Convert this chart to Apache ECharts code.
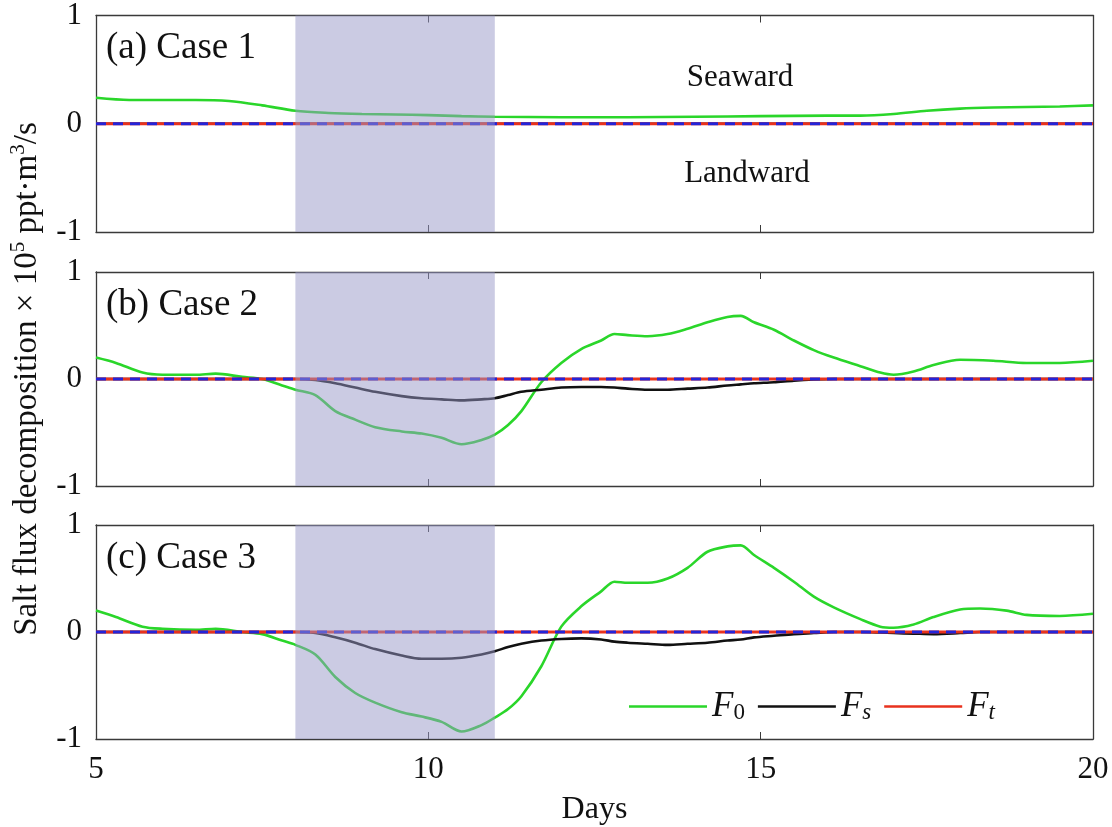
<!DOCTYPE html>
<html>
<head>
<meta charset="utf-8">
<script src="https://cdn.jsdelivr.net/npm/echarts@6/dist/echarts.min.js"></script>
<style>
  html, body { margin: 0; padding: 0; background: #fff; }
  #chart { width: 1112px; height: 827px; }
</style>
</head>
<body>
<div id="chart"></div>
<script>
// x ticks / y ticks
const xTicks = [5, 10, 15, 20]
const yTicks = [-1, 0, 1]
const shade = [8, 11]

// Case 1
const case1Days = [5, 5.5, 6, 6.5, 7, 7.5, 8, 8.5, 9, 9.5, 10, 10.5, 11, 12, 13, 14, 15, 16, 16.5, 17, 17.5, 18, 18.5, 19, 19.5, 20]
const case1F0 = [0.24, 0.22, 0.22, 0.22, 0.21, 0.17, 0.12, 0.1, 0.09, 0.085, 0.08, 0.07, 0.065, 0.06, 0.06, 0.065, 0.07, 0.075, 0.075, 0.09, 0.12, 0.14, 0.15, 0.155, 0.16, 0.17]
const case1Fs = [0, 0, 0, 0, 0, 0, 0, 0, 0, 0, 0, 0, 0, 0, 0, 0, 0, 0, 0, 0, 0, 0, 0, 0, 0, 0]

// Case 2
const case2Days = [5, 5.3, 5.7, 6, 6.5, 6.8, 7.2, 7.5, 7.8, 8, 8.3, 8.6, 8.9, 9.2, 9.6, 9.9, 10.2, 10.5, 10.8, 11, 11.2, 11.4, 11.7, 12, 12.3, 12.6, 12.8, 13, 13.3, 13.6, 13.9, 14.2, 14.5, 14.7, 14.9, 15.2, 15.5, 15.8, 16.1, 16.5, 16.8, 17, 17.3, 17.6, 18, 18.5, 19, 19.5, 20]
const case2F0 = [0.2, 0.15, 0.06, 0.04, 0.04, 0.05, 0.02, 0, -0.06, -0.1, -0.15, -0.3, -0.38, -0.45, -0.49, -0.51, -0.55, -0.61, -0.57, -0.52, -0.43, -0.3, -0.03, 0.15, 0.28, 0.36, 0.42, 0.41, 0.4, 0.42, 0.47, 0.53, 0.58, 0.59, 0.53, 0.46, 0.36, 0.27, 0.2, 0.12, 0.06, 0.04, 0.07, 0.13, 0.18, 0.17, 0.15, 0.15, 0.17]
const case2Fs = [0, 0, 0, 0, 0, 0, 0, 0, 0, 0, -0.01, -0.04, -0.08, -0.12, -0.16, -0.18, -0.19, -0.2, -0.19, -0.18, -0.15, -0.12, -0.1, -0.08, -0.075, -0.075, -0.08, -0.09, -0.1, -0.1, -0.09, -0.08, -0.06, -0.05, -0.04, -0.03, -0.015, -0.005, 0, 0, 0, 0, 0, 0, 0, 0, 0, 0, 0]

// Case 3
const case3Days = [5, 5.3, 5.7, 6, 6.5, 6.8, 7.2, 7.5, 7.8, 8, 8.3, 8.6, 8.9, 9.2, 9.6, 9.9, 10.2, 10.5, 10.8, 11, 11.2, 11.4, 11.7, 12, 12.3, 12.6, 12.8, 13, 13.3, 13.6, 13.9, 14.2, 14.5, 14.7, 14.9, 15.2, 15.5, 15.8, 16.1, 16.5, 16.8, 17, 17.3, 17.6, 18, 18.3, 18.7, 19, 19.5, 20]
const case3F0 = [0.2, 0.14, 0.05, 0.03, 0.02, 0.03, 0, -0.02, -0.08, -0.12, -0.21, -0.42, -0.57, -0.66, -0.75, -0.79, -0.84, -0.93, -0.87, -0.8, -0.72, -0.6, -0.32, 0.05, 0.24, 0.38, 0.47, 0.46, 0.46, 0.5, 0.6, 0.75, 0.8, 0.81, 0.72, 0.6, 0.47, 0.33, 0.23, 0.12, 0.05, 0.04, 0.07, 0.14, 0.21, 0.22, 0.2, 0.16, 0.15, 0.17]
const case3Fs = [0, 0, 0, 0, 0, 0, 0, 0, 0, 0, -0.01, -0.05, -0.1, -0.16, -0.22, -0.25, -0.25, -0.24, -0.21, -0.18, -0.14, -0.11, -0.08, -0.065, -0.06, -0.07, -0.09, -0.1, -0.11, -0.12, -0.11, -0.1, -0.08, -0.07, -0.05, -0.035, -0.02, -0.01, 0, 0, -0.005, -0.01, -0.015, -0.02, -0.01, 0, 0, 0, 0, 0]

const panelTitles = ['(a) Case 1', '(b) Case 2', '(c) Case 3']
const panels = [
  { days: case1Days, f0: case1F0, fs: case1Fs },
  { days: case2Days, f0: case2F0, fs: case2Fs },
  { days: case3Days, f0: case3F0, fs: case3Fs }
]

const serif = '"Liberation Serif", "DejaVu Serif", serif'
const axisColor = '#3a3a3a'
const green = '#2ad62a'
const black = '#111111'
const red = '#e8321e'
const blue = '#2424d8'

const chart = echarts.init(document.getElementById('chart'))

const gridTops = [15, 272, 525]
const gridHeights = [217, 214, 214]

const grid = gridTops.map((t, i) => ({ left: 96, width: 997, top: t, height: gridHeights[i] }))

const xAxis = []
const yAxis = []
gridTops.forEach((t, i) => {
  const last = i === 2
  xAxis.push({
    type: 'value', gridIndex: i, min: xTicks[0], max: xTicks[xTicks.length - 1], interval: 5,
    axisLine: { onZero: false, lineStyle: { color: axisColor, width: 1.3 } },
    axisTick: { inside: true, length: 7, lineStyle: { color: axisColor } },
    splitLine: { show: false },
    axisLabel: { show: last, color: '#111', fontFamily: serif, fontSize: 31, margin: 15 },
    name: last ? 'Days' : '', nameLocation: 'middle', nameGap: 55,
    nameTextStyle: { color: '#111', fontFamily: serif, fontSize: 32 }
  })
  xAxis.push({
    type: 'value', gridIndex: i, position: 'top', min: 5, max: 20, interval: 5,
    axisLine: { onZero: false, lineStyle: { color: axisColor, width: 1.3 } },
    axisTick: { inside: true, length: 7, lineStyle: { color: axisColor } },
    splitLine: { show: false }, axisLabel: { show: false }
  })
  yAxis.push({
    type: 'value', gridIndex: i, min: yTicks[0], max: yTicks[2], interval: 1,
    axisLine: { show: true, onZero: false, lineStyle: { color: axisColor, width: 1.3 } },
    axisTick: { show: true, inside: true, length: 7, lineStyle: { color: axisColor } },
    splitLine: { show: false },
    axisLabel: { color: '#111', fontFamily: serif, fontSize: 31, margin: 14 },
    name: i === 1 ? '{n|Salt flux decomposition × 10}{s|5}{n| ppt·m}{s|3}{n|/s}' : '',
    nameLocation: 'middle', nameRotate: 90, nameGap: 50, nameMoveOverlap: false,
    nameTextStyle: {
      rich: {
        n: { fontFamily: serif, fontSize: 33, color: '#111', lineHeight: 38 },
        s: { fontFamily: serif, fontSize: 21, color: '#111', lineHeight: 24, verticalAlign: 'top' }
      }
    }
  })
  yAxis.push({
    type: 'value', gridIndex: i, position: 'right', min: -1, max: 1, interval: 1,
    axisLine: { show: true, onZero: false, lineStyle: { color: axisColor, width: 1.3 } },
    axisTick: { show: true, inside: true, length: 7, lineStyle: { color: axisColor } },
    splitLine: { show: false }, axisLabel: { show: false }
  })
})

const series = []
panels.forEach((p, i) => {
  const xi = i * 2
  const yi = i * 2
  const zeros = p.days.map(d => [d, 0])
  series.push({
    name: 'F0', type: 'line', xAxisIndex: xi, yAxisIndex: yi, smooth: 0.3, showSymbol: false,
    data: p.days.map((d, k) => [d, p.f0[k]]), lineStyle: { color: green, width: 2.6 }, itemStyle: { color: green }, z: 3
  })
  series.push({
    name: 'Fs', type: 'line', xAxisIndex: xi, yAxisIndex: yi, smooth: 0.3, showSymbol: false,
    data: p.days.map((d, k) => [d, p.fs[k]]), lineStyle: { color: black, width: 2.6 }, itemStyle: { color: black }, z: 3
  })
  series.push({
    name: 'Ft', type: 'line', xAxisIndex: xi, yAxisIndex: yi, showSymbol: false,
    data: zeros, lineStyle: { color: red, width: 3 }, itemStyle: { color: red }, z: 4
  })
  series.push({
    name: 'sum', type: 'line', xAxisIndex: xi, yAxisIndex: yi, showSymbol: false,
    data: zeros, lineStyle: { color: blue, width: 3, type: [10, 7] }, itemStyle: { color: blue }, z: 5
  })
  // shaded period, drawn over the lines
  series.push({
    type: 'custom', xAxisIndex: xi, yAxisIndex: yi, silent: true, z: 10,
    data: [[shade[0], shade[1], yTicks[0], yTicks[2]]],
    encode: { x: [0, 1], y: [2, 3] },
    renderItem: (params, api) => {
      const p0 = api.coord([api.value(0), api.value(3)])
      const p1 = api.coord([api.value(1), api.value(2)])
      return {
        type: 'rect',
        shape: { x: p0[0], y: p0[1], width: p1[0] - p0[0], height: p1[1] - p0[1] },
        style: { fill: 'rgba(151, 151, 199, 0.5)' }
      }
    }
  })
})

const legendRich = {
  it: { fontFamily: serif, fontStyle: 'italic', fontSize: 35, color: '#111' },
  sub: { fontFamily: serif, fontSize: 23, color: '#111', verticalAlign: 'bottom', lineHeight: 30 },
  subi: { fontFamily: serif, fontStyle: 'italic', fontSize: 23, color: '#111', verticalAlign: 'bottom', lineHeight: 30 }
}

const option = {
  animation: false,
  grid,
  xAxis,
  yAxis,
  legend: {
    data: ['F0', 'Fs', 'Ft'],
    left: 624, top: 684,
    icon: 'rect', itemWidth: 78, itemHeight: 2.6, itemGap: 13,
    selectedMode: false,
    formatter: name => {
      if (name === 'F0') return '{it|F}{sub|0}'
      if (name === 'Fs') return '{it|F}{subi|s}'
      return '{it|F}{subi|t}'
    },
    textStyle: { rich: legendRich, padding: [0, 0, 0, 0] }
  },
  graphic: [
    ...panelTitles.map((txt, i) => ({
      type: 'text', left: 106, top: gridTops[i] + 15, z: 20,
      style: { text: txt, font: '37px ' + serif, fill: '#111' }
    })),
    { type: 'text', x: 740, y: 78, z: 20, style: { text: 'Seaward', font: '31px ' + serif, fill: '#111', textAlign: 'center', textVerticalAlign: 'middle' } },
    { type: 'text', x: 747, y: 174, z: 20, style: { text: 'Landward', font: '31px ' + serif, fill: '#111', textAlign: 'center', textVerticalAlign: 'middle' } }
  ],
  series
}

chart.setOption(option)
</script>
</body>
</html>
